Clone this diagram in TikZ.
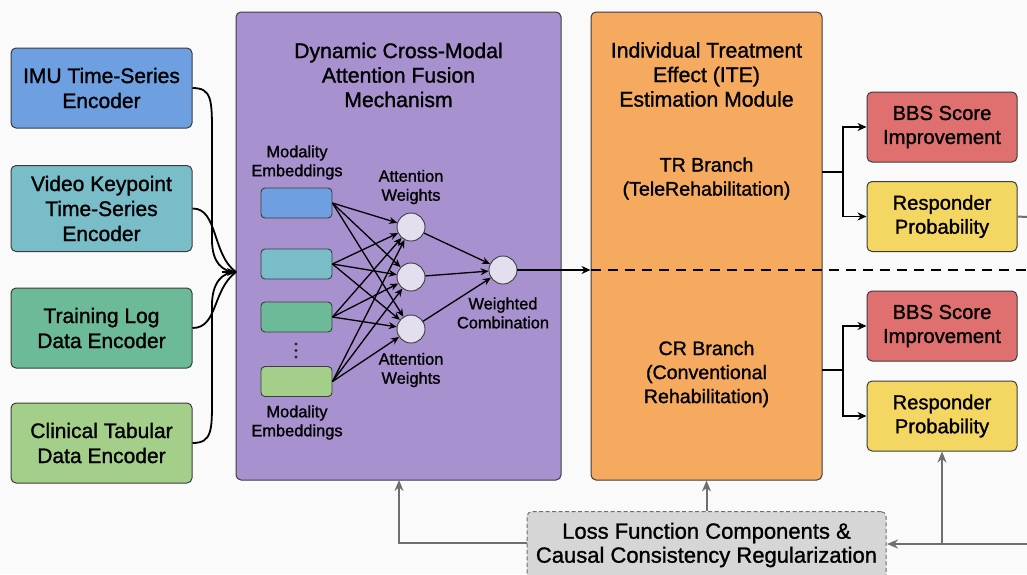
\documentclass[tikz,border=0pt]{standalone}
\usepackage{fontspec}
\setmainfont{Liberation Sans}[FakeBold=1.2]
\usetikzlibrary{arrows.meta}

\definecolor{bgc}{HTML}{FAFAFA}
\definecolor{edgec}{HTML}{3C3C3C}
\definecolor{imuc}{HTML}{6E9FE0}
\definecolor{vidc}{HTML}{79BDC8}
\definecolor{logc}{HTML}{6DBA98}
\definecolor{clinc}{HTML}{A4CF8A}
\definecolor{fusec}{HTML}{A791CF}
\definecolor{itec}{HTML}{F6AA60}
\definecolor{bbsc}{HTML}{E07070}
\definecolor{respc}{HTML}{F4D762}
\definecolor{lossc}{HTML}{D6D6D6}
\definecolor{nodec}{HTML}{E4DFEE}
\definecolor{grayline}{HTML}{6E6E6E}

\tikzset{
  box/.style={draw=edgec, line width=1pt, rounded corners=5pt, align=center,
    font=\fontsize{21}{25}\selectfont, inner sep=0pt},
  encbox/.style={box, minimum width=181pt, minimum height=80pt},
  outbox/.style={box, minimum width=150pt, minimum height=70pt, font=\fontsize{20.2}{24}\selectfont},
  embbox/.style={draw=edgec, line width=0.9pt, rounded corners=4pt, minimum width=71pt, minimum height=30pt, inner sep=0pt},
  attn/.style={circle, draw=edgec, line width=0.9pt, fill=nodec, minimum size=28pt, inner sep=0pt},
  lbl/.style={align=center, font=\fontsize{16.4}{19}\selectfont, inner sep=0pt},
  ttl/.style={align=center, font=\fontsize{21.2}{24.5}\selectfont, inner sep=0pt},
  sub/.style={align=center, font=\fontsize{19.6}{24}\selectfont, inner sep=0pt},
  blk/.style={line width=1.8pt, -{Stealth[length=9pt,width=8pt]}},
  thin/.style={line width=1.3pt, -{Stealth[length=8pt,width=7pt]}},
  gry/.style={draw=grayline, line width=2pt},
  gryarrow/.style={gry, -{Stealth[length=11pt,width=9pt]}},
}

\begin{document}
\begin{tikzpicture}[x=1pt,y=-1pt]
\clip (0,0) rectangle (1027,574);
\fill[bgc] (0,0) rectangle (1027,574);

% input encoders
\node[encbox, fill=imuc]  (imu)  at (101.5,88)  {IMU Time-Series\\Encoder};
\node[encbox, fill=vidc, minimum height=86pt]  (vid)  at (101.5,208.5) {Video Keypoint\\Time-Series\\Encoder};
\node[encbox, fill=logc]  (log)  at (101.5,328)  {Training Log\\Data Encoder};
\node[encbox, fill=clinc] (clin) at (101.5,443)  {Clinical Tabular\\Data Encoder};

% fusion and ITE panels
\node[box, fill=fusec, minimum width=325pt, minimum height=468pt] (fusion) at (398.5,246) {};
\node[box, fill=itec, minimum width=231pt, minimum height=468pt] (ite) at (706.5,246) {};

\node[ttl] (fusettl) at (398.5,75) {Dynamic Cross-Modal\\Attention Fusion\\Mechanism};
\node[ttl] (itettl) at (706.5,74.5) {Individual Treatment\\Effect (ITE)\\Estimation Module};
\node[sub] (tr) at (706.5,178.5) {TR Branch\\(TeleRehabilitation)};
\node[sub] (cr) at (706.5,374) {CR Branch\\(Conventional\\Rehabilitation)};

% converging inputs
\coordinate (fin) at (236,272);
\draw[line width=1.8pt] (imu.east) .. controls (212,88) and (212,100) .. (212,135) -- (212,240)
  .. controls (212,262) and (222,272) .. (fin);
\draw[line width=1.8pt] (vid.east) .. controls (218,208) and (212,255) .. (fin);
\draw[line width=1.8pt] (log.east) .. controls (218,328) and (212,290) .. (fin);
\draw[line width=1.8pt] (clin.east) .. controls (212,443) and (212,430) .. (212,400) -- (212,305)
  .. controls (212,283) and (222,272) .. (fin);
\draw[blk] (222,272) -- (fin);

% attention internals
\node[lbl] (emtop) at (297,162.5) {Modality\\Embeddings};
\node[embbox, fill=imuc]  (e1) at (296.5,203) {};
\node[embbox, fill=vidc]  (e2) at (296.5,264) {};
\node[embbox, fill=logc]  (e3) at (296.5,317) {};
\node[embbox, fill=clinc] (e4) at (296.5,381.5) {};
\foreach \dy in {344,350.5,357}{
  \fill[black!85] (296,\dy) circle (1.6pt);
}
\node[lbl] (embot) at (297,422.5) {Modality\\Embeddings};

\node[attn] (a1) at (411,227) {};
\node[attn] (a2) at (411,277) {};
\node[attn] (a3) at (411,329) {};
\node[lbl] (awtop) at (411,187) {Attention\\Weights};
\node[lbl] (awbot) at (411,370) {Attention\\Weights};

\node[attn] (wc) at (503,270) {};
\node[lbl] (wclbl) at (503,313) {Weighted\\Combination};

\foreach \e in {e1,e2,e3,e4}{
  \foreach \a in {a1,a2,a3}{
    \draw[thin] (\e.east) -- (\a);
  }
}
\foreach \a in {a1,a2,a3}{
  \draw[thin] (\a) -- (wc);
}

\coordinate (itein) at (ite.west |- wc);
\draw[blk] (wc.east) -- (itein);
\coordinate (dashend) at (1027,270);
\draw[line width=2pt, dash pattern=on 10pt off 7pt] (itein) -- (dashend);

% outcome heads
\node[outbox, fill=bbsc]  (bbs1)  at (942,127) {BBS Score\\Improvement};
\node[outbox, fill=respc] (resp1) at (942,216.5) {Responder\\Probability};
\node[outbox, fill=bbsc]  (bbs2)  at (942,326) {BBS Score\\Improvement};
\node[outbox, fill=respc] (resp2) at (942,416) {Responder\\Probability};

\coordinate (trout) at (822,172);
\coordinate (trj) at (843,172);
\coordinate (crout) at (822,370);
\coordinate (crj) at (843,370);
\draw[line width=1.8pt] (trout) -- (trj);
\draw[blk] (trj) |- (bbs1.west);
\draw[blk] (trj) |- (resp1.west);
\draw[line width=1.8pt] (crout) -- (crj);
\draw[blk] (crj) |- (bbs2.west);
\draw[blk] (crj) |- (resp2.west);

% loss and feedback
\node[box, fill=lossc, dash pattern=on 4pt off 2.5pt, draw=grayline, minimum width=359pt, minimum height=90pt,
  anchor=north] (loss) at (706.5,511) {};
\node[align=center, inner sep=0pt, font=\fontsize{22}{24}\selectfont] (losstxt) at (706.5,545)
  {Loss Function Components \&\\Causal Consistency Regularization};

\coordinate (rightA) at (1027,217);
\coordinate (rightB) at (1027,544);
\coordinate (lossR) at (887,544);
\coordinate (tapR) at (942,544);
\coordinate (lossL) at (527,543);
\coordinate (fusB) at (399,480);
\draw[gry] (resp1.east) -- (rightA);
\draw[gryarrow] (rightB) -- (lossR);
\draw[gryarrow] (tapR) -- (resp2.south);
\draw[gryarrow] (lossL) -| (fusB);
\draw[gryarrow] (loss.north) -- (ite.south);
\end{tikzpicture}
\end{document}
